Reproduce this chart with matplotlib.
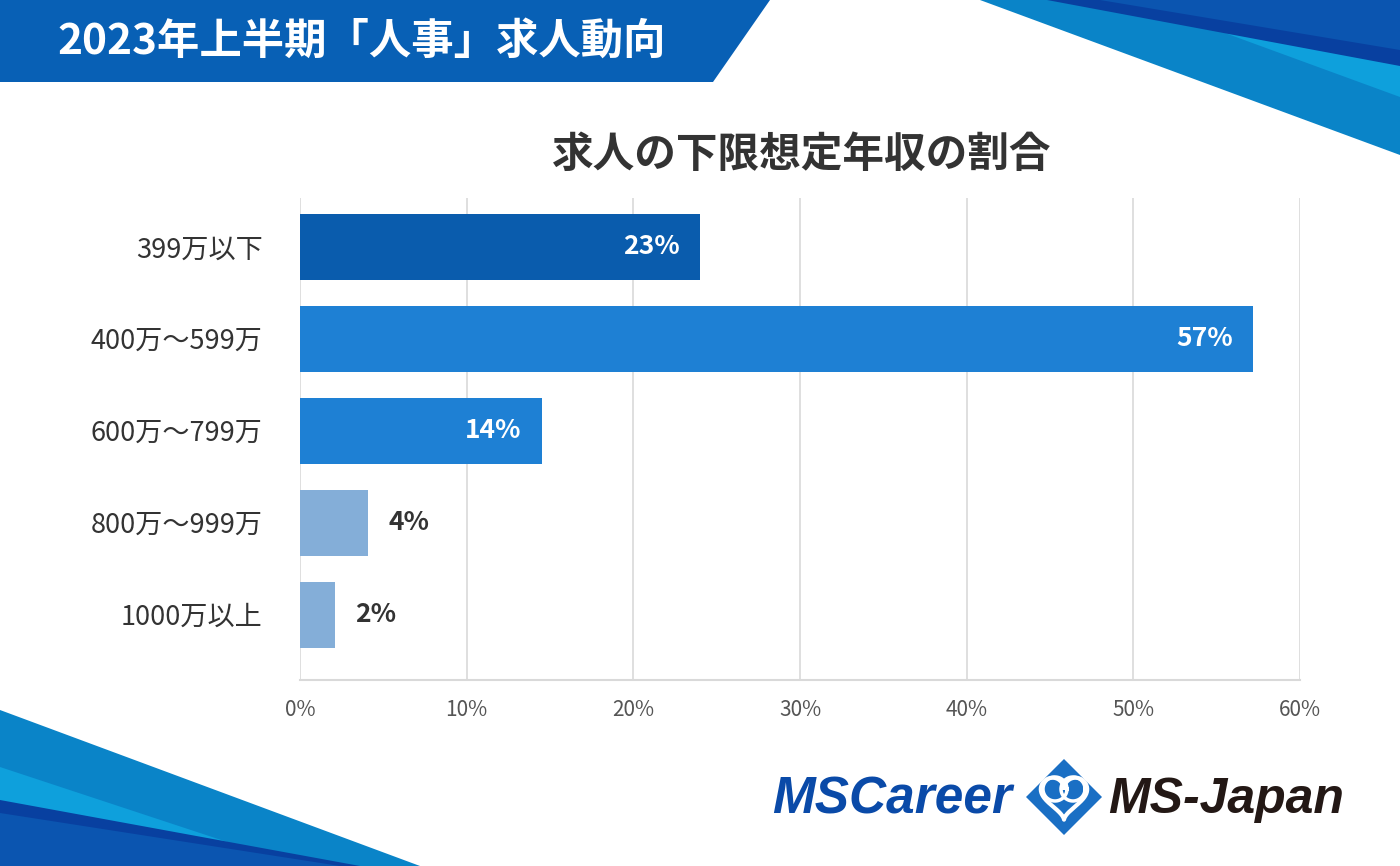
import numpy as np
import matplotlib as mpl
import matplotlib.pyplot as plt
from matplotlib.patches import Polygon

plt.rcParams['font.family'] = ['Noto Sans CJK JP', 'DejaVu Sans']

# data
categories = ['399万以下', '400万～599万', '600万～799万', '800万～999万', '1000万以上']
values = [24.0, 57.2, 14.5, 4.1, 2.1]
value_labels = ['23%', '57%', '14%', '4%', '2%']
bar_colors = ['#0a5cad', '#1e80d4', '#1e80d4', '#84aed8', '#84aed8']
xticks = [0, 10, 20, 30, 40, 50, 60]

W, H = 1400, 866
fig = plt.figure(figsize=(14, 8.66), dpi=100)

def px(pts):
    # pixel coords (top-left origin) -> figure fraction
    return [(x / W, 1 - y / H) for x, y in pts]

def poly(pts, color):
    fig.patches.append(Polygon(px(pts), closed=True, transform=fig.transFigure,
                               facecolor=color, edgecolor='none', zorder=0))

# header banner
poly([(0, 0), (770, 0), (713, 82), (0, 82)], '#0860b5')
fig.text(57 / W, 1 - 42 / H, '2023年上半期「人事」求人動向', color='white',
         fontsize=30.5, fontweight='bold', ha='left', va='center')

# top right decoration
poly([(980, 0), (1400, 0), (1400, 155)], '#0a84c8')
poly([(1225, 33), (1400, 60), (1400, 97)], '#0ea0dc')
poly([(1047, 0), (1400, 0), (1400, 66)], '#0840a0')
poly([(1100, 0), (1400, 0), (1400, 50)], '#0b55b0')

# bottom left decoration
poly([(0, 710), (420, 866), (0, 866)], '#0a84c8')
poly([(0, 767), (300, 866), (0, 866)], '#0ea0dc')
poly([(0, 800), (360, 866), (0, 866)], '#0840a0')
poly([(0, 813), (340, 866), (0, 866)], '#0b55b0')

# chart
ax = fig.add_axes([300 / W, 1 - 680 / H, 1000 / W, 482 / H])
y = np.arange(len(categories))
ax.barh(y, values, height=0.72, color=bar_colors, zorder=3)
ax.set_xlim(0, 60)
ax.set_ylim(4.71, -0.53)
ax.set_xticks(xticks)
ax.set_xticklabels([f'{t}%' for t in xticks], color='#555555', fontsize=15)
ax.set_yticks(y)
ax.set_yticklabels(categories, fontsize=19.5, color='#333333')
ax.tick_params(axis='both', length=0)
ax.tick_params(axis='x', pad=14)
ax.tick_params(axis='y', pad=27)
ax.grid(axis='x', color='#d9d9d9', linewidth=1.2, zorder=0)
for s in ['top', 'right', 'left']:
    ax.spines[s].set_visible(False)
ax.spines['bottom'].set_color('#d9d9d9')
ax.spines['bottom'].set_linewidth(1.5)

for yi, v, lab in zip(y, values, value_labels):
    if v > 10:
        ax.text(v - 1.2, yi, lab, color='white', fontsize=19, fontweight='bold',
                ha='right', va='center', zorder=4)
    else:
        ax.text(v + 1.2, yi, lab, color='#333333', fontsize=19, fontweight='bold',
                ha='left', va='center', zorder=4)

fig.text(802 / W, 1 - 155 / H, '求人の下限想定年収の割合', color='#333333',
         fontsize=30, fontweight='bold', ha='center', va='center')

# logo
fig.text(1012 / W, 1 - 800 / H, 'MSCareer', color='#0a4aa8', fontsize=37,
         fontweight='bold', fontstyle='italic', family='Liberation Sans',
         ha='right', va='center')
fig.text(1108 / W, 1 - 800 / H, 'MS-Japan', color='#231815', fontsize=36,
         fontweight='bold', fontstyle='italic', family='Liberation Sans',
         ha='left', va='center')
cx, cy, r = 1064, 797, 38
poly([(cx, cy - r), (cx + r, cy), (cx, cy + r), (cx - r, cy)], '#1a6fc4')
t = np.linspace(0, 2 * np.pi, 200)
hx = 16 * np.sin(t) ** 3
hy = 13 * np.cos(t) - 5 * np.cos(2 * t) - 2 * np.cos(3 * t) - np.cos(4 * t)
hpts = px([(cx + 1.45 * a, cy - 2 - 1.45 * b) for a, b in zip(hx, hy)])
fig.lines.append(mpl.lines.Line2D([p[0] for p in hpts], [p[1] for p in hpts],
                                  transform=fig.transFigure, color='white', linewidth=3))
ring = px([(cx + 12 * np.cos(a), cy - 8 + 12 * np.sin(a)) for a in t])
for dx in (-9, 9):
    fig.lines.append(mpl.lines.Line2D([p[0] + dx / W for p in ring], [p[1] for p in ring],
                                      transform=fig.transFigure, color='white', linewidth=2.5))

fig.savefig('out.png', dpi=100)
plt.close()
